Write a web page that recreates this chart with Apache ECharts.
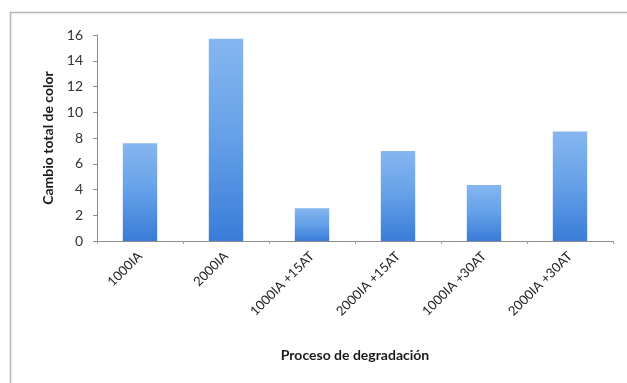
<!DOCTYPE html>
<html>
<head>
<meta charset="utf-8">
<script src="https://cdn.jsdelivr.net/npm/echarts@6/dist/echarts.min.js"></script>
<style>
  html, body { margin: 0; padding: 0; background: #ffffff; }
  #chart { width: 627px; height: 383px; }
</style>
</head>
<body>
<div id="chart"></div>
<script>
// Degradation processes and total colour change for each
const categories = ['1000IA', '2000IA', '1000IA +15AT', '2000IA +15AT', '1000IA +30AT', '2000IA +30AT'];
const colorChange = [7.6, 15.7, 2.55, 7.0, 4.35, 8.5];
const yTicks = { min: 0, max: 16, interval: 2 };

const chart = echarts.init(document.getElementById('chart'));

const barFill = new echarts.graphic.LinearGradient(0, 0, 0, 1, [
  { offset: 0, color: '#86b6ef' },
  { offset: 0.5, color: '#64a0e8' },
  { offset: 1, color: '#3a7cd8' }
]);

chart.setOption({
  backgroundColor: '#ffffff',
  animation: false,
  textStyle: { fontFamily: 'Lato, "Open Sans", sans-serif' },
  graphic: [{
    type: 'rect',
    shape: { x: 10.5, y: 12.5, width: 640, height: 400 },
    style: { fill: 'none', stroke: '#b4b4b4', lineWidth: 1.5 },
    silent: true,
    z: -1
  }],
  grid: { left: 97, right: 14, top: 35, bottom: 142 },
  xAxis: {
    type: 'category',
    data: categories,
    boundaryGap: true,
    name: 'Proceso de degradación',
    nameLocation: 'middle',
    nameGap: 107,
    nameTextStyle: { fontSize: 14, fontWeight: 'bold', color: '#1a1a1a' },
    axisLine: { lineStyle: { color: '#8c8c8c', width: 1 } },
    axisTick: { show: true, length: 3, lineStyle: { color: '#a0a0a0' } },
    axisLabel: { rotate: 45, fontSize: 13, color: '#222', margin: 13 },
    splitLine: { show: false }
  },
  yAxis: {
    type: 'value',
    min: yTicks.min,
    max: yTicks.max,
    interval: yTicks.interval,
    name: 'Cambio total de color',
    nameLocation: 'middle',
    nameGap: 41,
    nameTextStyle: { fontSize: 14, fontWeight: 'bold', color: '#1a1a1a' },
    axisLine: { show: true, lineStyle: { color: '#8c8c8c', width: 1 } },
    axisTick: { show: true, length: 4, lineStyle: { color: '#8c8c8c' } },
    axisLabel: { fontSize: 14, color: '#333', margin: 14 },
    splitLine: { show: false }
  },
  series: [{
    type: 'bar',
    data: colorChange,
    barWidth: '40%',
    itemStyle: { color: barFill }
  }]
});
</script>
</body>
</html>
